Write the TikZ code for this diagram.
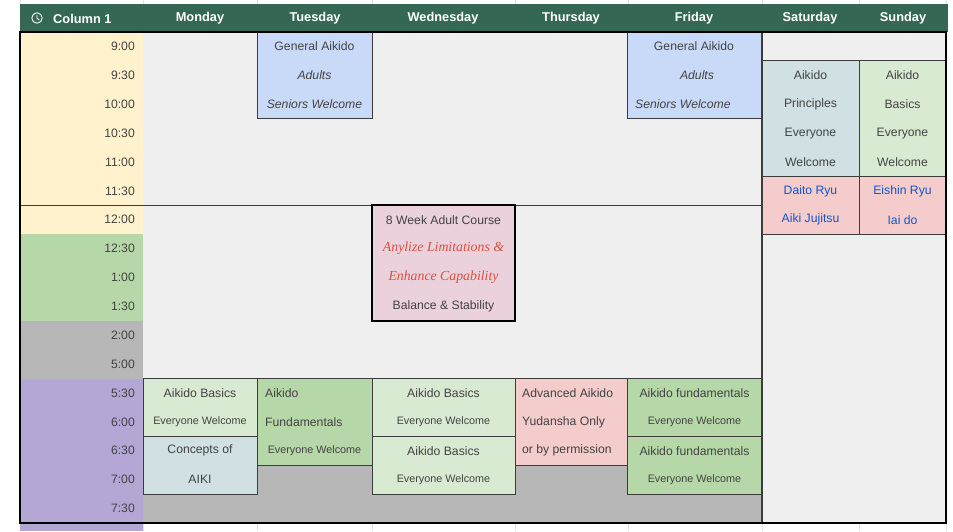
\documentclass[tikz,border=0pt]{standalone}
\usepackage{fontspec}
\setmainfont{Liberation Sans}
\newfontfamily\seriffont{Liberation Serif}
\definecolor{hdr}{HTML}{356854}
\definecolor{yel}{HTML}{FFF2CC}
\definecolor{grn}{HTML}{B6D7A8}
\definecolor{gry}{HTML}{B7B7B7}
\definecolor{pur}{HTML}{B4A7D6}
\definecolor{blu}{HTML}{C9DAF8}
\definecolor{lgrn}{HTML}{D9EAD3}
\definecolor{lcyn}{HTML}{D0E0E3}
\definecolor{pnk}{HTML}{F4CCCC}
\definecolor{lav}{HTML}{EAD1DC}
\definecolor{bgc}{HTML}{EFEFEF}
\definecolor{txt}{HTML}{434343}
\definecolor{redt}{HTML}{D9503F}
\definecolor{bluet}{HTML}{1155CC}
\definecolor{gridl}{HTML}{E2E2E2}
\definecolor{bord}{HTML}{3C3C3C}
\begin{document}
\begin{tikzpicture}[x=1pt,y=-1pt,
  declare function={ry(\k)=32+28.88*\k; rc(\k)=46.44+28.88*\k;},
  tx/.style={font=\fontsize{12.2}{14}\selectfont, text=txt, inner sep=0pt},
  sm/.style={font=\fontsize{10.8}{12}\selectfont, text=txt, inner sep=0pt},
  hd/.style={font=\fontsize{12.8}{14}\selectfont\bfseries, text=white, inner sep=0pt},
  tm/.style={tx, anchor=east},
  it/.style={tx, font=\fontsize{12.2}{14}\selectfont\itshape},
  rd/.style={font=\fontsize{13.8}{15}\selectfont\seriffont\itshape, text=redt, inner sep=0pt},
  bt/.style={tx, text=bluet},
  blk/.style={draw=bord, line width=0.8pt},
  faint/.style={draw=gridl, line width=0.6pt}]
\useasboundingbox (0,0) rectangle (953,531);
\fill[white] (0,0) rectangle (953,531);
% faint grid strips
\foreach \xx in {20,143,257,372,515,628,762,859,946}{
  \draw[faint] (\xx,0) -- (\xx,4);
  \draw[faint] (\xx,523) -- (\xx,531);
}
\fill[pur] (20,523) rectangle (143,531);
% header
\fill[hdr] (20,4) rectangle (948,32);
% body background
\fill[bgc] (143,{ry(0)}) rectangle (946,{ry(17)});
\fill[yel] (20,{ry(0)}) rectangle (143,{ry(7)});
\fill[grn] (20,{ry(7)}) rectangle (143,{ry(10)});
\fill[gry] (20,{ry(10)}) rectangle (143,{ry(12)});
\fill[pur] (20,{ry(12)}) rectangle (143,{ry(17)});
\fill[gry] (143,{ry(12)}) rectangle (762,{ry(17)});
% section lines
\draw[bord, line width=1pt] (20,{ry(6)}) -- (762,{ry(6)});
\draw[bord, line width=1pt] (143,{ry(12)}) -- (762,{ry(12)});
% morning blocks
\draw[blk, fill=blu] (257,{ry(0)}) rectangle (372,{ry(3)});
\draw[blk, fill=blu] (627,{ry(0)}) rectangle (762,{ry(3)});
\draw[blk, fill=bgc] (762,{ry(0)}) rectangle (946,{ry(1)});
\draw[blk, fill=lcyn] (762,{ry(1)}) rectangle (859,{ry(5)});
\draw[blk, fill=lgrn] (859,{ry(1)}) rectangle (946,{ry(5)});
\draw[blk, fill=pnk] (762,{ry(5)}) rectangle (859,{ry(7)});
\draw[blk, fill=pnk] (859,{ry(5)}) rectangle (946,{ry(7)});
\draw[black, line width=1.6pt, fill=lav] (372,{ry(6)}) rectangle (515,{ry(10)});
% evening blocks
\draw[blk, fill=lgrn] (143,{ry(12)}) rectangle (257,{ry(14)});
\draw[blk, fill=lcyn] (143,{ry(14)}) rectangle (257,{ry(16)});
\draw[blk, fill=grn] (257,{ry(12)}) rectangle (372,{ry(15)});
\draw[blk, fill=lgrn] (372,{ry(12)}) rectangle (515,{ry(14)});
\draw[blk, fill=lgrn] (372,{ry(14)}) rectangle (515,{ry(16)});
\draw[blk, fill=pnk] (515,{ry(12)}) rectangle (627,{ry(15)});
\draw[blk, fill=grn] (627,{ry(12)}) rectangle (762,{ry(14)});
\draw[blk, fill=grn] (627,{ry(14)}) rectangle (762,{ry(16)});
\draw[bord, line width=1.2pt] (762,{ry(0)}) -- (762,{ry(17)});
% outer border
\draw[black, line width=2.2pt] (20,{ry(0)}) rectangle (946,{ry(17)});
% clock icon
\draw[white, line width=0.9pt] (37,18) circle (5.2);
\draw[white, line width=0.9pt] (37,15) -- (37,18.3) -- (39.3,20);
% header text
\node[hd, anchor=west] (h0) at (53,18.5) {Column 1};
\node[hd] (h1) at (200,18.5) {Monday};
\node[hd] (h2) at (315,18.5) {Tuesday};
\node[hd] (h3) at (443,18.5) {Wednesday};
\node[hd] (h4) at (571,18.5) {Thursday};
\node[hd] (h5) at (694,18.5) {Friday};
\node[hd] (h6) at (810,18.5) {Saturday};
\node[hd] (h7) at (903,18.5) {Sunday};
% times
\foreach \t [count=\i from 0] in {9:00,9:30,10:00,10:30,11:00,11:30,12:00,12:30,1:00,1:30,2:00,5:00,5:30,6:00,6:30,7:00,7:30}{
  \node[tm] (time\i) at (135,{rc(\i)}) {\t};
}
% Tuesday morning
\node[tx] (tu1) at (314.5,{rc(0)}) {General Aikido};
\node[it] (tu2) at (314.5,{rc(1)}) {Adults};
\node[it] (tu3) at (314.5,{rc(2)}) {Seniors Welcome};
% Friday morning
\node[tx] (fr1) at (694,{rc(0)}) {General Aikido};
\node[it] (fr2) at (697,{rc(1)}) {Adults};
\node[it, anchor=west] (fr3) at (635,{rc(2)}) {Seniors Welcome};
% Saturday / Sunday
\node[tx] (sa1) at (810.5,{rc(1)}) {Aikido};
\node[tx] (sa2) at (810.5,{rc(2)}) {Principles};
\node[tx] (sa3) at (810.5,{rc(3)}) {Everyone};
\node[tx] (sa4) at (810.5,{rc(4)}) {Welcome};
\node[tx] (su1) at (902.5,{rc(1)}) {Aikido};
\node[tx] (su2) at (902.5,{rc(2)}) {Basics};
\node[tx] (su3) at (902.5,{rc(3)}) {Everyone};
\node[tx] (su4) at (902.5,{rc(4)}) {Welcome};
\node[bt] (sa5) at (810.5,{rc(5)}) {Daito Ryu};
\node[bt] (sa6) at (810.5,{rc(6)}) {Aiki Jujitsu};
\node[bt] (su5) at (902.5,{rc(5)}) {Eishin Ryu};
\node[bt] (su6) at (902.5,{rc(6)}) {Iai do};
% Wednesday course
\node[tx] (we1) at (443.5,{rc(6)}) {8 Week Adult Course};
\node[rd] (we2) at (443.5,{rc(7)}) {Anylize Limitations \&};
\node[rd] (we3) at (443.5,{rc(8)}) {Enhance Capability};
\node[tx] (we4) at (443.5,{rc(9)}) {Balance \& Stability};
% evening Monday
\node[tx] (mo1) at (200,{rc(12)}) {Aikido Basics};
\node[sm] (mo2) at (200,{rc(13)}) {Everyone Welcome};
\node[tx] (mo3) at (200,{rc(14)}) {Concepts of};
\node[tx] (mo4) at (200,{rc(15)}) {AIKI};
% evening Tuesday
\node[tx, anchor=west] (te1) at (265,{rc(12)}) {Aikido};
\node[tx, anchor=west] (te2) at (265,{rc(13)}) {Fundamentals};
\node[sm] (te3) at (314.5,{rc(14)}) {Everyone Welcome};
% evening Wednesday
\node[tx] (wd1) at (443.5,{rc(12)}) {Aikido Basics};
\node[sm] (wd2) at (443.5,{rc(13)}) {Everyone Welcome};
\node[tx] (wd3) at (443.5,{rc(14)}) {Aikido Basics};
\node[sm] (wd4) at (443.5,{rc(15)}) {Everyone Welcome};
% evening Thursday
\node[tx, anchor=west] (th1) at (522,{rc(12)}) {Advanced Aikido};
\node[tx, anchor=west] (th2) at (522,{rc(13)}) {Yudansha Only};
\node[tx, anchor=west] (th3) at (522,{rc(14)}) {or by permission};
% evening Friday
\node[tx] (fe1) at (694.5,{rc(12)}) {Aikido fundamentals};
\node[sm] (fe2) at (694.5,{rc(13)}) {Everyone Welcome};
\node[tx] (fe3) at (694.5,{rc(14)}) {Aikido fundamentals};
\node[sm] (fe4) at (694.5,{rc(15)}) {Everyone Welcome};
\end{tikzpicture}
\end{document}
